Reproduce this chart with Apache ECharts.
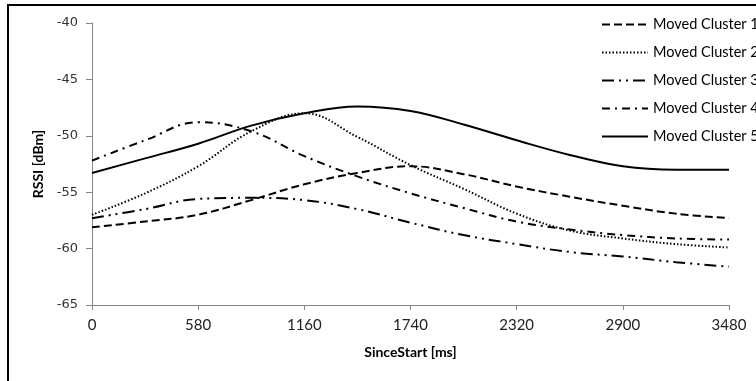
<!DOCTYPE html>
<html>
<head>
<meta charset="utf-8">
<script src="https://cdn.jsdelivr.net/npm/echarts@6/dist/echarts.min.js"></script>
<style>
  html, body { margin: 0; padding: 0; background: #fff; }
  #chart { width: 756px; height: 381px; }
</style>
</head>
<body>
<div id="chart"></div>
<script>
// time since start (ms)
const sinceStart = [0, 290, 580, 870, 1160, 1450, 1740, 2030, 2320, 2610, 2900, 3190, 3480]

// RSSI per moved cluster (dBm)
const cluster1 = [-58.1, -57.6, -57.0, -55.7, -54.3, -53.3, -52.7, -53.4, -54.5, -55.4, -56.2, -56.9, -57.3]
const cluster2 = [-57.0, -55.1, -52.7, -49.6, -48.0, -50.1, -52.6, -54.7, -56.9, -58.4, -59.1, -59.6, -59.9]
const cluster3 = [-57.3, -56.5, -55.6, -55.5, -55.7, -56.5, -57.7, -58.8, -59.6, -60.3, -60.7, -61.2, -61.6]
const cluster4 = [-52.2, -50.4, -48.8, -49.6, -51.8, -53.6, -55.1, -56.4, -57.6, -58.3, -58.8, -59.1, -59.2]
const cluster5 = [-53.3, -52.0, -50.7, -49.1, -48.0, -47.4, -47.8, -49.0, -50.4, -51.7, -52.7, -53.0, -53.0]

const seriesNames = ['Moved Cluster 1', 'Moved Cluster 2', 'Moved Cluster 3', 'Moved Cluster 4', 'Moved Cluster 5']
const dashes = [[8, 4], [1.5, 2], [12, 5, 2, 5, 2, 5], [8, 5, 2, 5], 'solid']

const chart = echarts.init(document.getElementById('chart'))

function mkSeries(name, values, dash) {
  return {
    name,
    type: 'line',
    smooth: 0.4,
    symbol: 'none',
    data: values.map((v, i) => [sinceStart[i], v]),
    lineStyle: { color: '#000', width: 2, type: dash },
    itemStyle: { color: '#000' },
  }
}

chart.setOption({
  animation: false,
  backgroundColor: '#fff',
  graphic: [{
    type: 'rect',
    shape: { x: 8, y: 5, width: 800, height: 420 },
    style: { fill: 'none', stroke: '#000', lineWidth: 2 },
    silent: true,
  }],
  grid: { left: 92, right: 27, top: 23, bottom: 76 },
  legend: {
    left: 596,
    top: 12,
    orient: 'vertical',
    itemWidth: 46,
    itemHeight: 14,
    itemGap: 13,
    itemStyle: { opacity: 0 },
    textStyle: { fontFamily: 'Lato', fontSize: 14.5, color: '#000' },
    data: seriesNames,
  },
  xAxis: {
    type: 'value',
    min: 0,
    max: 3480,
    interval: 580,
    name: 'SinceStart [ms]',
    nameLocation: 'middle',
    nameGap: 40,
    nameTextStyle: { fontFamily: 'Lato', fontSize: 14, fontWeight: 'bold', color: '#000' },
    axisLine: { lineStyle: { color: '#868686', width: 1 } },
    axisTick: { lineStyle: { color: '#868686' }, length: 5 },
    axisLabel: { fontFamily: 'Lato', fontSize: 15, color: '#222', margin: 13, formatter: v => String(v) },
    splitLine: { show: false },
  },
  yAxis: {
    type: 'value',
    min: -65,
    max: -40,
    interval: 5,
    name: 'RSSI [dBm]',
    nameLocation: 'middle',
    nameGap: 43,
    nameTextStyle: { fontFamily: 'Lato', fontSize: 14, fontWeight: 'bold', color: '#000' },
    axisLine: { show: true, lineStyle: { color: '#868686', width: 1 } },
    axisTick: { show: true, lineStyle: { color: '#868686' }, length: 6 },
    axisLabel: { fontFamily: 'DejaVu Sans', fontSize: 13, color: '#333', margin: 14 },
    splitLine: { show: false },
  },
  series: [
    mkSeries(seriesNames[0], cluster1, dashes[0]),
    mkSeries(seriesNames[1], cluster2, dashes[1]),
    mkSeries(seriesNames[2], cluster3, dashes[2]),
    mkSeries(seriesNames[3], cluster4, dashes[3]),
    mkSeries(seriesNames[4], cluster5, dashes[4]),
  ],
})
</script>
</body>
</html>
